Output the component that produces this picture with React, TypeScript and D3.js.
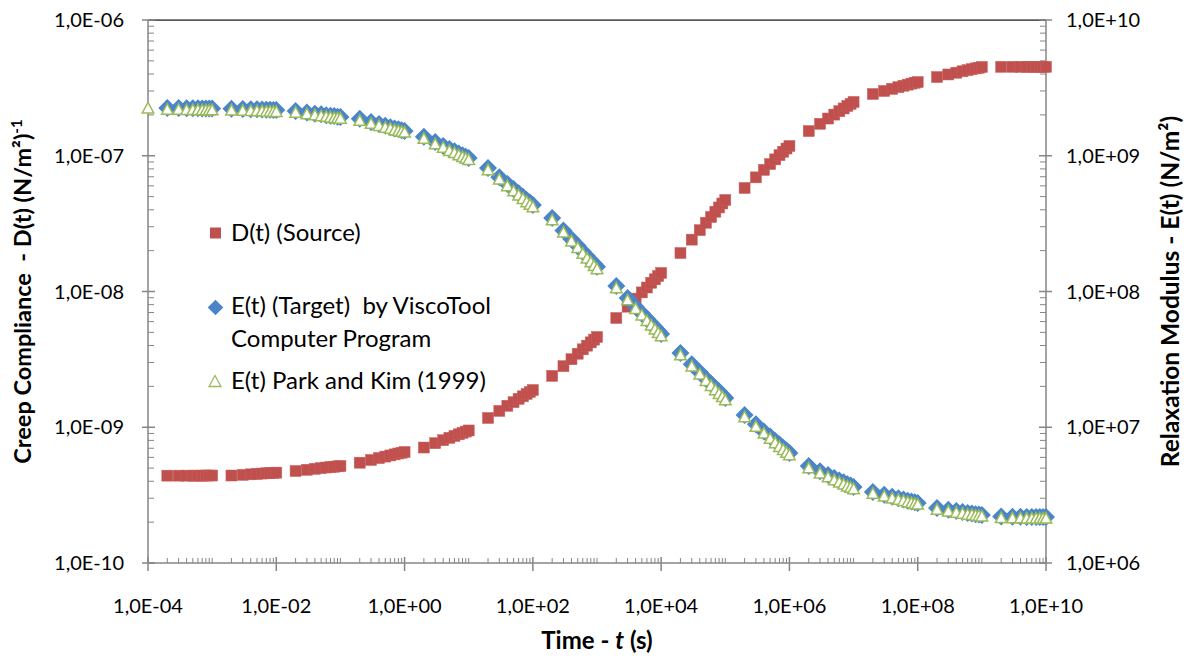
import React from "react";
import * as d3 from "d3";

// ---- Data ----
// Time grid for D(t) and E(t) target: 2..10 x 10^k, k = -4..9
const timePoints = [
  2e-4, 3e-4, 4e-4, 5e-4, 6e-4, 7e-4, 8e-4, 9e-4, 1e-3,
  2e-3, 3e-3, 4e-3, 5e-3, 6e-3, 7e-3, 8e-3, 9e-3, 1e-2,
  2e-2, 3e-2, 4e-2, 5e-2, 6e-2, 7e-2, 8e-2, 9e-2, 1e-1,
  2e-1, 3e-1, 4e-1, 5e-1, 6e-1, 7e-1, 8e-1, 9e-1, 1e0,
  2e0, 3e0, 4e0, 5e0, 6e0, 7e0, 8e0, 9e0, 1e1,
  2e1, 3e1, 4e1, 5e1, 6e1, 7e1, 8e1, 9e1, 1e2,
  2e2, 3e2, 4e2, 5e2, 6e2, 7e2, 8e2, 9e2, 1e3,
  2e3, 3e3, 4e3, 5e3, 6e3, 7e3, 8e3, 9e3, 1e4,
  2e4, 3e4, 4e4, 5e4, 6e4, 7e4, 8e4, 9e4, 1e5,
  2e5, 3e5, 4e5, 5e5, 6e5, 7e5, 8e5, 9e5, 1e6,
  2e6, 3e6, 4e6, 5e6, 6e6, 7e6, 8e6, 9e6, 1e7,
  2e7, 3e7, 4e7, 5e7, 6e7, 7e7, 8e7, 9e7, 1e8,
  2e8, 3e8, 4e8, 5e8, 6e8, 7e8, 8e8, 9e8, 1e9,
  2e9, 3e9, 4e9, 5e9, 6e9, 7e9, 8e9, 9e9, 1e10,
];

// Park and Kim series also has t = 1e-4
const timeParkKim = [1e-4, ...timePoints];

// D(t) (Source) creep compliance, (N/m^2)^-1
const creepD = [
  4.40e-10, 4.40e-10, 4.40e-10, 4.40e-10, 4.40e-10, 4.40e-10, 4.41e-10, 4.41e-10, 4.41e-10,
  4.41e-10, 4.46e-10, 4.50e-10, 4.53e-10, 4.56e-10, 4.58e-10, 4.59e-10, 4.61e-10, 4.63e-10,
  4.76e-10, 4.86e-10, 4.94e-10, 5.00e-10, 5.05e-10, 5.09e-10, 5.12e-10, 5.15e-10, 5.18e-10,
  5.48e-10, 5.74e-10, 5.93e-10, 6.08e-10, 6.20e-10, 6.31e-10, 6.41e-10, 6.49e-10, 6.57e-10,
  7.09e-10, 7.63e-10, 8.03e-10, 8.36e-10, 8.63e-10, 8.87e-10, 9.09e-10, 9.29e-10, 9.47e-10,
  1.17e-9, 1.32e-9, 1.44e-9, 1.53e-9, 1.62e-9, 1.69e-9, 1.76e-9, 1.82e-9, 1.88e-9,
  2.39e-9, 2.82e-9, 3.17e-9, 3.48e-9, 3.75e-9, 3.99e-9, 4.22e-9, 4.42e-9, 4.62e-9,
  6.38e-9, 7.73e-9, 8.86e-9, 9.85e-9, 1.07e-8, 1.16e-8, 1.23e-8, 1.30e-8, 1.37e-8,
  1.92e-8, 2.41e-8, 2.83e-8, 3.21e-8, 3.54e-8, 3.87e-8, 4.16e-8, 4.45e-8, 4.72e-8,
  5.79e-8, 6.93e-8, 7.87e-8, 8.68e-8, 9.40e-8, 1.01e-7, 1.07e-7, 1.13e-7, 1.18e-7,
  1.52e-7, 1.72e-7, 1.88e-7, 2.01e-7, 2.13e-7, 2.23e-7, 2.33e-7, 2.41e-7, 2.49e-7,
  2.85e-7, 3.00e-7, 3.11e-7, 3.20e-7, 3.28e-7, 3.34e-7, 3.40e-7, 3.45e-7, 3.49e-7,
  3.80e-7, 3.97e-7, 4.09e-7, 4.19e-7, 4.27e-7, 4.34e-7, 4.40e-7, 4.45e-7, 4.51e-7,
  4.52e-7, 4.52e-7, 4.52e-7, 4.52e-7, 4.52e-7, 4.52e-7, 4.52e-7, 4.52e-7, 4.52e-7,
];

// E(t) (Target) by ViscoTool, N/m^2
const relaxTarget = [
  2.25e9, 2.25e9, 2.24e9, 2.24e9, 2.24e9, 2.23e9, 2.23e9, 2.23e9, 2.23e9,
  2.22e9, 2.21e9, 2.20e9, 2.20e9, 2.19e9, 2.18e9, 2.18e9, 2.17e9, 2.17e9,
  2.14e9, 2.08e9, 2.04e9, 2.02e9, 1.99e9, 1.97e9, 1.96e9, 1.94e9, 1.93e9,
  1.87e9, 1.77e9, 1.71e9, 1.66e9, 1.62e9, 1.59e9, 1.57e9, 1.54e9, 1.52e9,
  1.38e9, 1.26e9, 1.18e9, 1.12e9, 1.08e9, 1.04e9, 1.01e9, 9.85e8, 9.63e8,
  8.13e8, 6.94e8, 6.20e8, 5.68e8, 5.30e8, 4.99e8, 4.73e8, 4.52e8, 4.34e8,
  3.48e8, 2.82e8, 2.43e8, 2.17e8, 1.97e8, 1.82e8, 1.70e8, 1.60e8, 1.52e8,
  1.10e8, 8.94e7, 7.73e7, 6.91e7, 6.30e7, 5.83e7, 5.45e7, 5.13e7, 4.86e7,
  3.52e7, 2.91e7, 2.54e7, 2.28e7, 2.09e7, 1.95e7, 1.83e7, 1.73e7, 1.64e7,
  1.23e7, 1.05e7, 9.32e6, 8.53e6, 7.93e6, 7.45e6, 7.07e6, 6.74e6, 6.46e6,
  5.18e6, 4.74e6, 4.44e6, 4.23e6, 4.06e6, 3.93e6, 3.81e6, 3.72e6, 3.63e6,
  3.33e6, 3.18e6, 3.08e6, 3.00e6, 2.94e6, 2.88e6, 2.84e6, 2.80e6, 2.77e6,
  2.54e6, 2.47e6, 2.42e6, 2.38e6, 2.34e6, 2.32e6, 2.29e6, 2.28e6, 2.26e6,
  2.20e6, 2.19e6, 2.19e6, 2.18e6, 2.18e6, 2.18e6, 2.18e6, 2.18e6, 2.18e6,
];

// E(t) Park and Kim (1999), N/m^2
const relaxParkKim = [
  2.26e9,
  2.21e9, 2.21e9, 2.20e9, 2.20e9, 2.20e9, 2.19e9, 2.19e9, 2.19e9, 2.19e9,
  2.18e9, 2.17e9, 2.16e9, 2.16e9, 2.15e9, 2.14e9, 2.14e9, 2.13e9, 2.13e9,
  2.10e9, 2.05e9, 2.01e9, 1.98e9, 1.96e9, 1.94e9, 1.92e9, 1.91e9, 1.90e9,
  1.83e9, 1.74e9, 1.68e9, 1.63e9, 1.60e9, 1.56e9, 1.54e9, 1.52e9, 1.50e9,
  1.35e9, 1.23e9, 1.16e9, 1.10e9, 1.06e9, 1.02e9, 9.90e8, 9.65e8, 9.44e8,
  7.93e8, 6.77e8, 6.05e8, 5.54e8, 5.17e8, 4.87e8, 4.61e8, 4.41e8, 4.23e8,
  3.39e8, 2.75e8, 2.37e8, 2.12e8, 1.92e8, 1.77e8, 1.66e8, 1.56e8, 1.48e8,
  1.07e8, 8.72e7, 7.54e7, 6.74e7, 6.14e7, 5.68e7, 5.31e7, 5.00e7, 4.74e7,
  3.43e7, 2.84e7, 2.48e7, 2.22e7, 2.04e7, 1.90e7, 1.78e7, 1.69e7, 1.60e7,
  1.20e7, 1.02e7, 9.09e6, 8.32e6, 7.73e6, 7.26e6, 6.89e6, 6.57e6, 6.30e6,
  5.05e6, 4.62e6, 4.33e6, 4.12e6, 3.96e6, 3.83e6, 3.71e6, 3.63e6, 3.54e6,
  3.28e6, 3.13e6, 3.03e6, 2.96e6, 2.90e6, 2.84e6, 2.80e6, 2.76e6, 2.73e6,
  2.50e6, 2.43e6, 2.38e6, 2.34e6, 2.30e6, 2.29e6, 2.26e6, 2.25e6, 2.23e6,
  2.17e6, 2.16e6, 2.16e6, 2.15e6, 2.15e6, 2.15e6, 2.15e6, 2.15e6, 2.15e6,
];

// Axis ticks and labels
const xTickValues = [1e-4, 1e-2, 1e0, 1e2, 1e4, 1e6, 1e8, 1e10];
const xTickLabels = ["1,0E-04", "1,0E-02", "1,0E+00", "1,0E+02", "1,0E+04", "1,0E+06", "1,0E+08", "1,0E+10"];
const yLeftTickValues = [1e-10, 1e-9, 1e-8, 1e-7, 1e-6];
const yLeftTickLabels = ["1,0E-10", "1,0E-09", "1,0E-08", "1,0E-07", "1,0E-06"];
const yRightTickValues = [1e6, 1e7, 1e8, 1e9, 1e10];
const yRightTickLabels = ["1,0E+06", "1,0E+07", "1,0E+08", "1,0E+09", "1,0E+10"];

const legendLabels = ["D(t) (Source)", "E(t) (Target)  by ViscoTool", "Computer Program", "E(t) Park and Kim (1999)"];

// ---- Layout ----
const W = 1190;
const H = 656;
const PL = 148, PR = 1046, PT = 20, PB = 563;
const FONT = "Lato, 'Open Sans', 'DejaVu Sans', sans-serif";
const AXIS = "#868686";
const RED = "#C0504D";
const BLUE = "#4A85C9";
const GREEN = "#9BBB59";

const x = d3.scaleLog().domain([1e-4, 1e10]).range([PL, PR]);
const yL = d3.scaleLog().domain([1e-10, 1e-6]).range([PB, PT]);
const yR = d3.scaleLog().domain([1e6, 1e10]).range([PB, PT]);

function minorTicks(lo: number, hi: number, majors: number[]) {
  const out: number[] = [];
  for (let k = lo; k < hi; k++) {
    for (let m = 1; m <= 9; m++) {
      const v = m * Math.pow(10, k);
      if (!majors.some((t) => Math.abs(Math.log10(t) - Math.log10(v)) < 1e-9)) out.push(v);
    }
  }
  return out;
}

const xMinor = minorTicks(-4, 10, xTickValues);
const yLMinor = minorTicks(-10, -6, yLeftTickValues);
const yRMinor = minorTicks(6, 10, yRightTickValues);

const diamond = (cx: number, cy: number, r: number) =>
  `M${cx},${cy - r}L${cx + r},${cy}L${cx},${cy + r}L${cx - r},${cy}Z`;
const triangle = (cx: number, cy: number, w: number, h: number) =>
  `M${cx},${cy - h / 2}L${cx + w / 2},${cy + h / 2}L${cx - w / 2},${cy + h / 2}Z`;

export default function App() {
  const sq = 11;
  const dr = 9;
  return (
    <svg
      width={W}
      height={H}
      viewBox={`0 0 ${W} ${H}`}
      style={{ position: "absolute", left: 0, top: 0, background: "#fff" }}
      fontFamily={FONT}
    >
      <rect x={0} y={0} width={W} height={H} fill="#fff" />

      {/* top border */}
      <line x1={PL} x2={PR} y1={PT} y2={PT} stroke="#595959" strokeWidth={1.75} />

      {/* axes lines */}
      <line x1={PL} x2={PL} y1={PT} y2={PB} stroke={AXIS} strokeWidth={1.5} />
      <line x1={PR} x2={PR} y1={PT} y2={PB} stroke={AXIS} strokeWidth={1.5} />
      <line x1={PL} x2={PR} y1={PB} y2={PB} stroke={AXIS} strokeWidth={1.5} />

      {/* x ticks */}
      {xMinor.map((v, i) => (
        <line key={"xm" + i} x1={x(v)} x2={x(v)} y1={PB - 5} y2={PB} stroke={AXIS} strokeWidth={1} />
      ))}
      {xTickValues.map((v, i) => (
        <line key={"xM" + i} x1={x(v)} x2={x(v)} y1={PB - 6} y2={PB + 8} stroke={AXIS} strokeWidth={1.5} />
      ))}
      {xTickValues.map((v, i) => (
        <text key={"xl" + i} x={x(v)} y={613} textAnchor="middle" fontSize={20} fill="#000">
          {xTickLabels[i]}
        </text>
      ))}

      {/* left y ticks */}
      {yLMinor.map((v, i) => (
        <line key={"ylm" + i} x1={PL} x2={PL + 6} y1={yL(v)} y2={yL(v)} stroke={AXIS} strokeWidth={1} />
      ))}
      {yLeftTickValues.map((v, i) => (
        <line key={"ylM" + i} x1={PL - 6} x2={PL + 7} y1={yL(v)} y2={yL(v)} stroke={AXIS} strokeWidth={1.5} />
      ))}
      {yLeftTickValues.map((v, i) => (
        <text key={"yll" + i} x={124} y={yL(v)} dy="0.35em" textAnchor="end" fontSize={20} fill="#000">
          {yLeftTickLabels[i]}
        </text>
      ))}

      {/* right y ticks */}
      {yRMinor.map((v, i) => (
        <line key={"yrm" + i} x1={PR - 6} x2={PR} y1={yR(v)} y2={yR(v)} stroke={AXIS} strokeWidth={1} />
      ))}
      {yRightTickValues.map((v, i) => (
        <line key={"yrM" + i} x1={PR - 7} x2={PR + 6} y1={yR(v)} y2={yR(v)} stroke={AXIS} strokeWidth={1.5} />
      ))}
      {yRightTickValues.map((v, i) => (
        <text key={"yrl" + i} x={1066} y={yR(v)} dy="0.35em" textAnchor="start" fontSize={20} fill="#000">
          {yRightTickLabels[i]}
        </text>
      ))}

      {/* D(t) source squares */}
      {creepD.map((d, i) => (
        <rect
          key={"d" + i}
          x={x(timePoints[i]) - sq / 2}
          y={yL(d) - sq / 2}
          width={sq}
          height={sq}
          fill={RED}
          stroke="#c95d5a"
          strokeWidth={0.5}
        />
      ))}

      {/* E(t) target diamonds */}
      {relaxTarget.map((e, i) => (
        <path key={"e" + i} d={diamond(x(timePoints[i]), yR(e), dr)} fill={BLUE} />
      ))}

      {/* E(t) Park and Kim triangles */}
      {relaxParkKim.map((e, i) => (
        <path
          key={"p" + i}
          d={triangle(x(timeParkKim[i]), yR(e), 11.5, 10.5)}
          fill="#fff"
          stroke={GREEN}
          strokeWidth={1.5}
        />
      ))}

      {/* legend */}
      <rect x={215.5 - sq / 2} y={233 - sq / 2} width={sq} height={sq} fill={RED} />
      <text x={231} y={241} fontSize={24} fill="#000" style={{ whiteSpace: "pre" }}>{legendLabels[0]}</text>
      <path d={diamond(215.5, 307.5, 7.8)} fill={BLUE} />
      <text x={231} y={314} fontSize={24} fill="#000" style={{ whiteSpace: "pre" }}>{legendLabels[1]}</text>
      <text x={231} y={347} fontSize={24} fill="#000" style={{ whiteSpace: "pre" }}>{legendLabels[2]}</text>
      <path d={triangle(215, 381, 12, 11)} fill="#fff" stroke={GREEN} strokeWidth={1.3} />
      <text x={231} y={389} fontSize={24} fill="#000" style={{ whiteSpace: "pre" }}>{legendLabels[3]}</text>

      {/* axis titles */}
      <text x={(PL + PR) / 2} y={649} textAnchor="middle" fontSize={24} fontWeight="bold" fill="#000" style={{ whiteSpace: "pre" }}>
        Time - <tspan fontStyle="italic">t</tspan> (s)
      </text>
      <text
        transform={`translate(31, ${(PT + PB) / 2}) rotate(-90)`}
        textAnchor="middle"
        fontSize={23.5}
        fontWeight="bold"
        fill="#000"
        style={{ whiteSpace: "pre" }}
      >
        Creep Compliance  - D(t) (N/m²)<tspan dy={-9} fontSize={15}>-1</tspan>
      </text>
      <text
        transform={`translate(1179, ${(PT + PB) / 2}) rotate(-90)`}
        textAnchor="middle"
        fontSize={24.5}
        fontWeight="bold"
        fill="#000"
        style={{ whiteSpace: "pre" }}
      >
        Relaxation Modulus - E(t) (N/m²)
      </text>
    </svg>
  );
}
